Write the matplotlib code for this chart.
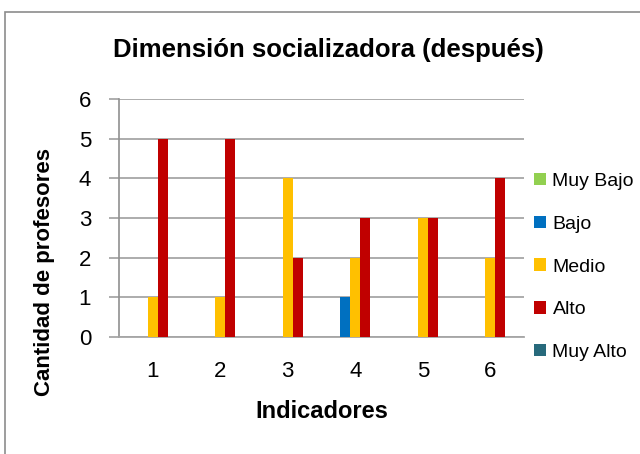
import matplotlib
matplotlib.use("Agg")
import matplotlib.pyplot as plt
from matplotlib.patches import Rectangle
import numpy as np

categories = ["1", "2", "3", "4", "5", "6"]
series_names = ["Muy Bajo", "Bajo", "Medio", "Alto", "Muy Alto"]
muy_bajo = [0, 0, 0, 0, 0, 0]
bajo = [0, 0, 0, 1, 0, 0]
medio = [1, 1, 4, 2, 3, 2]
alto = [5, 5, 2, 3, 3, 4]
muy_alto = [0, 0, 0, 0, 0, 0]
colors = ["#92D050", "#0070C0", "#FFC000", "#C00000", "#276A7C"]
yticks = [0, 1, 2, 3, 4, 5, 6]

plt.rcParams['font.family'] = ["Liberation Sans", "DejaVu Sans"]

fig = plt.figure(figsize=(6.4, 4.54), dpi=100)
ax = fig.add_axes([119/640, 1-337/454, (524-119)/640, (337-99)/454])

data = [muy_bajo, bajo, medio, alto, muy_alto]
x = np.arange(len(categories))
bw = 0.148
for i, (name, vals, c) in enumerate(zip(series_names, data, colors)):
    ax.bar(x + (i-2)*bw, vals, width=bw, color=c, label=name, zorder=3)

ax.set_xlim(-0.5, len(categories)-0.5)
ax.set_ylim(0, 6)
ax.set_yticks(yticks)
ax.set_yticklabels([str(t) for t in yticks], fontsize=16)
ax.set_xticks(x)
ax.set_xticklabels(categories, fontsize=16)
ax.tick_params(axis='x', length=0, pad=17)
ax.tick_params(axis='y', length=7, color='#a0a0a0', pad=13, width=1.2)
ax.yaxis.grid(True, color='#a6a6a6', linewidth=1.3, zorder=0)
for s in ['top', 'right']:
    ax.spines[s].set_visible(False)
ax.spines['left'].set_color('#909090')
ax.spines['left'].set_linewidth(1.2)
ax.spines['bottom'].set_color('#a6a6a6')
ax.spines['bottom'].set_linewidth(1.3)

fig.text(328/640, 1-50/454, "Dimensión socializadora (después)", ha='center', va='center',
         fontsize=18.5, fontweight='bold')
fig.text(322/640, 1-411/454, "Indicadores", ha='center', va='center',
         fontsize=17, fontweight='bold')
fig.text(45/640, 1-272/454, "Cantidad de profesores", ha='center', va='center',
         rotation=90, fontsize=16, fontweight='bold')

leg = ax.legend(loc='center left', bbox_to_anchor=(534/640, 1-267/454), bbox_transform=fig.transFigure,
                frameon=False, fontsize=14, handlelength=0.6, handleheight=0.6,
                handletextpad=0.35, labelspacing=1.32, borderpad=0, borderaxespad=0)

fig.patches.append(Rectangle((5/640, -0.1), 1.2, 1-12/454+0.1, transform=fig.transFigure,
                             fill=False, edgecolor='#8c8c8c', linewidth=1.2))

fig.savefig("out.png", dpi=100)
